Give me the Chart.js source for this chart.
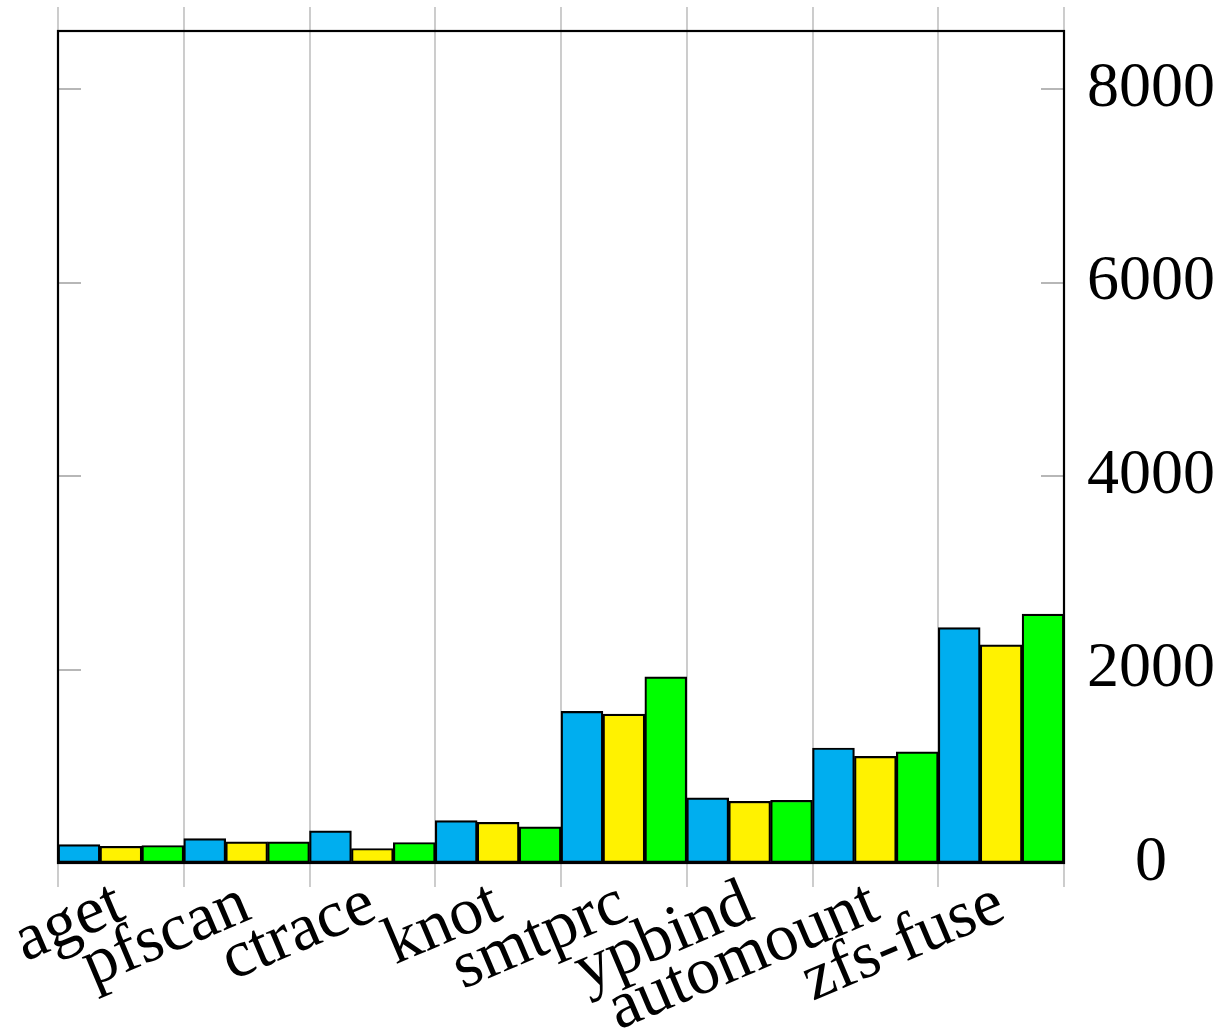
<!DOCTYPE html>
<html><head><meta charset="utf-8">
<script src="https://cdn.jsdelivr.net/npm/chart.js@4"></script>
<style>html,body{margin:0;padding:0;background:#fff}</style>
</head><body>
<canvas id="c" width="1227" height="1033"></canvas>
<script>
const categories = ['aget','pfscan','ctrace','knot','smtprc','ypbind','automount','zfs-fuse'];
const seriesBlue   = [190, 253, 332, 439, 1567, 673, 1189, 2433];
const seriesYellow = [173, 219, 150, 421, 1540, 638, 1102, 2255];
const seriesGreen  = [181, 219, 212, 374, 1925, 648, 1148, 2572];
const yTickValues  = [0, 2000, 4000, 6000, 8000];
const yMax = 8600;

const FONT = "'Liberation Serif', 'DejaVu Serif', serif";

const decorPlugin = {
  id: 'decor',
  beforeDatasetsDraw(chart) {
    const {ctx, chartArea: a, scales: {x, y}} = chart;
    ctx.save();
    ctx.strokeStyle = '#c0c0c0';
    ctx.lineWidth = 1.6;
    for (let i = 0; i <= categories.length; i++) {
      const px = Math.round(x.getPixelForValue(i - 0.5));
      ctx.beginPath();
      ctx.moveTo(px, a.top - 24);
      ctx.lineTo(px, a.bottom + 24);
      ctx.stroke();
    }
    ctx.strokeStyle = '#a0a0a0';
    for (const v of yTickValues) {
      const py = Math.round(y.getPixelForValue(v));
      ctx.beginPath();
      ctx.moveTo(a.left, py); ctx.lineTo(a.left + 23, py);
      ctx.moveTo(a.right - 23, py); ctx.lineTo(a.right, py);
      ctx.stroke();
    }
    ctx.restore();
  },
  afterDraw(chart) {
    const {ctx, chartArea: a} = chart;
    ctx.save();
    ctx.strokeStyle = '#000';
    ctx.lineWidth = 2.2;
    ctx.strokeRect(a.left, a.top, a.right - a.left, a.bottom - a.top);
    ctx.restore();
  }
};

const common = {borderColor: '#000', borderWidth: 2.2, borderSkipped: false};
new Chart(document.getElementById('c'), {
  type: 'bar',
  data: {
    labels: categories,
    datasets: [
      {data: seriesBlue, backgroundColor: '#00aeef', ...common},
      {data: seriesYellow, backgroundColor: '#fff200', ...common},
      {data: seriesGreen, backgroundColor: '#00ff00', ...common}
    ]
  },
  options: {
    responsive: false,
    animation: false,
    devicePixelRatio: 1,
    layout: {padding: {left: 58, top: 31, right: 0, bottom: 0}},
    plugins: {legend: {display: false}, tooltip: {enabled: false}},
    datasets: {bar: {categoryPercentage: 1.0, barPercentage: 1.0}},
    scales: {
      x: {
        offset: true,
        grid: {display: false},
        border: {display: false},
        ticks: {
          color: '#000',
          font: {family: FONT, size: 67, lineHeight: 1},
          minRotation: 23, maxRotation: 23,
          autoSkip: false,
          padding: 0
        },
        afterFit(s) { s.height = 170; }
      },
      y: {
        position: 'right',
        min: 0, max: yMax,
        grid: {display: true, drawOnChartArea: false, drawTicks: true, tickLength: 23, tickColor: 'rgba(0,0,0,0)'},
        border: {display: false},
        afterBuildTicks(s) { s.ticks = yTickValues.map(v => ({value: v})); },
        ticks: {
          color: '#000',
          font: {family: FONT, size: 64, lineHeight: 0.9},
          crossAlign: 'center',
          padding: 0,
          callback: v => String(v)
        },
        afterFit(s) { s.width = 163; }
      }
    }
  },
  plugins: [decorPlugin]
});
</script>
</body></html>
